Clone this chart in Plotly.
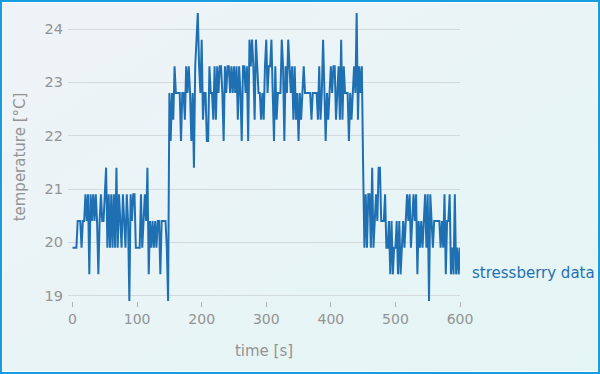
import base64
import plotly.graph_objects as go

temp_rise = [
    19.9, 19.9, 19.9, 19.9, 20.4, 20.4, 20.4, 19.9, 20.4, 20.4,
    20.9, 20.4, 20.9, 19.4, 20.9, 20.4, 20.9, 20.4, 20.9, 20.4,
    19.4, 20.4, 20.9, 20.4, 20.4, 20.9, 21.4, 19.9, 20.9, 19.9,
    20.9, 19.9, 20.9, 19.9, 21.4, 19.9, 20.9, 20.4, 19.9, 20.9,
    20.4, 19.9, 20.9, 20.4, 18.9, 20.9, 20.4, 20.9, 20.9, 19.9,
    19.9, 19.9, 19.9, 20.9, 19.9, 20.4, 20.9, 20.4, 21.4, 19.4,
    20.4, 19.9, 20.4, 19.9, 20.4, 19.9, 20.4, 20.4, 19.4, 20.4,
    20.4, 20.4, 20.4, 19.9, 18.9,
]
temp_stress = [
    22.8, 21.9, 22.8, 22.3, 23.3, 22.8, 22.8, 22.8, 22.8, 21.9,
    22.8, 22.8, 22.3, 23.3, 22.8, 23.3, 22.8, 21.9, 22.8, 21.4,
    23.3, 23.8, 24.3, 23.3, 22.8, 23.8, 22.3, 22.8, 22.8, 21.9,
    21.9, 23.3, 22.8, 22.8, 22.3, 23.3, 22.3, 23.3, 22.8, 23.3,
    23.3, 22.8, 21.9, 23.3, 22.8, 23.3, 23.3, 22.8, 23.3, 22.8,
    23.3, 22.8, 23.3, 22.3, 23.3, 22.8, 21.9, 23.3, 23.3, 22.8,
    23.3, 21.9, 23.8, 23.3, 23.8, 23.3, 22.3, 23.8, 23.3, 22.8,
    22.8, 22.3, 22.8, 22.3, 23.3, 23.8, 22.8, 23.3, 23.3, 23.8,
    22.8, 21.9, 23.3, 22.3, 22.8, 22.8, 22.8, 23.8, 23.3, 21.9,
    23.3, 22.8, 23.8, 23.3, 22.8, 23.3, 22.3, 23.3, 22.3, 22.8,
    21.9, 22.8, 22.3, 22.8, 23.3, 22.8, 22.8, 22.8, 22.8, 22.8,
    22.3, 22.8, 22.8, 22.8, 22.8, 22.3, 23.3, 22.3, 22.8, 23.8,
    22.8, 21.9, 22.8, 22.3, 22.8, 23.3, 22.8, 23.3, 23.3, 22.3,
    22.8, 23.3, 22.3, 23.8, 22.3, 23.3, 22.8, 22.8, 22.8, 21.9,
    22.8, 22.3, 22.8, 23.3, 22.8, 24.3, 22.3, 23.3, 22.8, 23.3,
]
temp_cool = [
    21.4, 19.9, 20.9, 19.9, 20.9, 20.9, 19.9, 21.4, 19.9, 20.4,
    20.9, 20.4, 21.4, 21.4, 20.4, 20.4, 20.4, 20.9, 19.9, 19.9,
    20.4, 19.4, 20.4, 19.4, 19.9, 19.9, 20.4, 19.4, 20.4, 19.4,
    19.9, 20.4, 19.9, 20.4, 20.9, 20.4, 20.9, 19.9, 20.4, 20.9,
    20.4, 20.9, 19.4, 20.4, 19.9, 20.4, 19.9, 20.4, 20.9, 19.9,
    20.9, 18.9, 20.9, 20.4, 19.9, 20.4, 20.4, 20.4, 20.4, 20.4,
    19.9, 20.4, 19.9, 20.9, 19.4, 20.4, 20.4, 20.9, 19.4, 19.9,
    19.4, 20.9, 19.4, 19.9, 19.4, 19.9,
]
temperature = temp_rise + temp_stress + temp_cool
sample_interval_s = 2
time_s = [i * sample_interval_s for i in range(len(temperature))]

series_name = "stressberry data"
x_title = "time [s]"
y_title = "temperature [°C]"

W, H = 600, 374
ML, MR, MT, MB = 68, 140, 13, 73
PW, PH = W - ML - MR, H - MT - MB

svg = f'''<svg xmlns="http://www.w3.org/2000/svg" width="{W}" height="{H}" viewBox="0 0 {W} {H}" preserveAspectRatio="none">
<defs><linearGradient id="g" x1="0" y1="0" x2="1" y2="1">
<stop offset="0" stop-color="#eff3f8"/><stop offset="1" stop-color="#e3f5f4"/></linearGradient></defs>
<rect x="0" y="0" width="{W}" height="{H}" fill="url(#g)"/>
<rect x="2.5" y="2.5" width="{W-5}" height="{H-5}" fill="none" stroke="#ffffff" stroke-width="1"/>
<rect x="1" y="1" width="{W-2}" height="{H-2}" fill="none" stroke="#159de0" stroke-width="2"/>
</svg>'''
src = "data:image/svg+xml;base64," + base64.b64encode(svg.encode()).decode()

font = "DejaVu Sans"
gray = "#939393"
blue = "#1f70b3"

fig = go.Figure()
fig.add_trace(go.Scatter(x=time_s, y=temperature, mode="lines",
                         line=dict(color=blue, width=2), showlegend=False))
fig.add_annotation(x=time_s[-1], y=19.43, xref="x", yref="y", text=series_name,
                   showarrow=False, xanchor="left", yanchor="middle", xshift=10,
                   font=dict(family=font, size=15, color=blue))
fig.update_layout(
    width=W, height=H,
    margin=dict(l=ML, r=MR, t=MT, b=MB),
    paper_bgcolor="#e9f4f6", plot_bgcolor="rgba(0,0,0,0)",
    font=dict(family=font, color=gray, size=14),
    images=[dict(source=src, xref="paper", yref="paper",
                 x=-ML / PW, y=1 + MT / PH, sizex=W / PW, sizey=H / PH,
                 xanchor="left", yanchor="top", sizing="stretch", layer="below")],
    xaxis=dict(range=[-7, 600], showgrid=False, zeroline=False, showline=False,
               ticks="outside", ticklen=5, tickcolor="#b0b0b0", tickwidth=1,
               tickvals=[0, 100, 200, 300, 400, 500, 600],
               tickfont=dict(size=14, color=gray),
               title=dict(text=x_title, font=dict(size=15, color=gray), standoff=19)),
    yaxis=dict(range=[18.9, 24.3], showgrid=True, gridcolor="#d3dadf", gridwidth=1,
               zeroline=False, showline=False, ticks="", ticklabelstandoff=4,
               tickvals=[19, 20, 21, 22, 23, 24],
               tickfont=dict(size=14.5, color=gray),
               title=dict(text=y_title, font=dict(size=15, color=gray), standoff=15)),
)
fig.write_html("out.html")
